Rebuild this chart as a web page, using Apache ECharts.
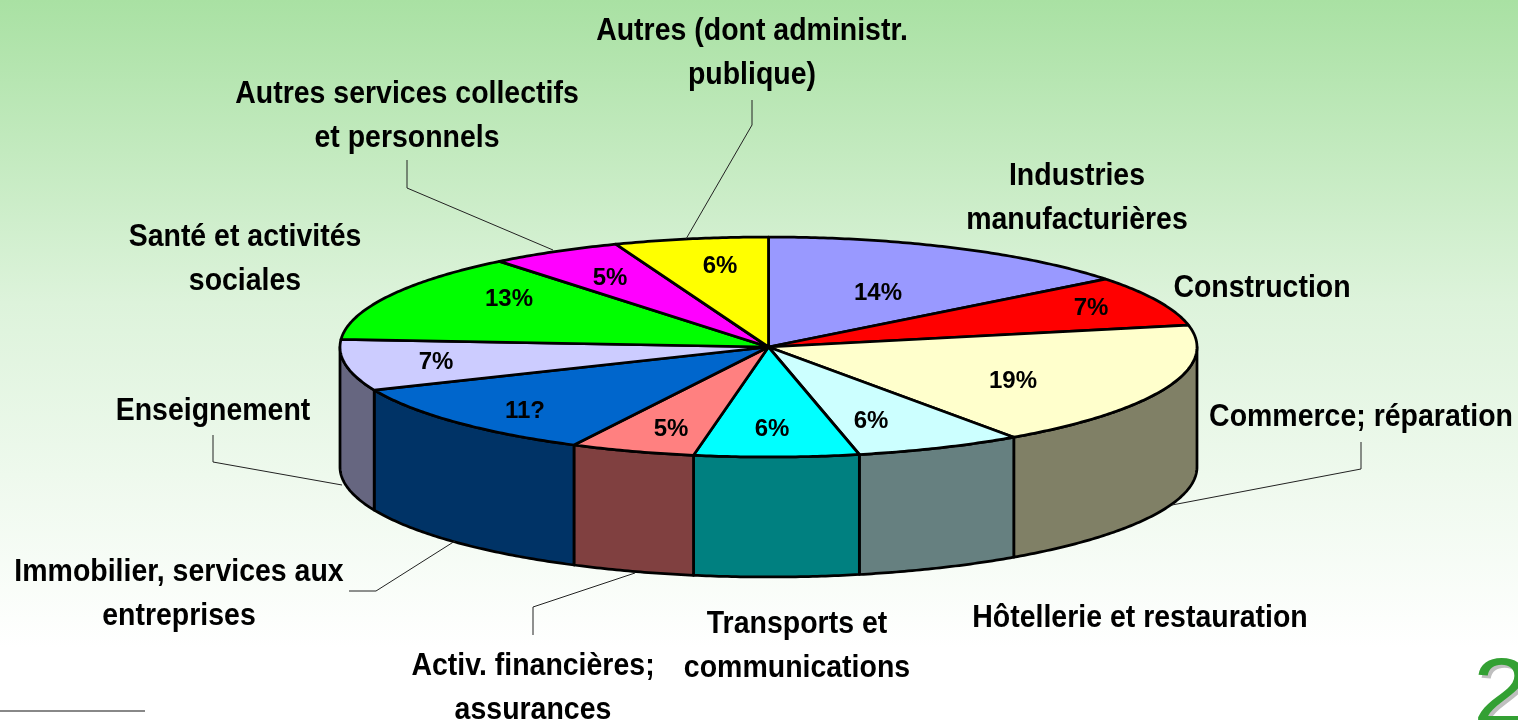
<!DOCTYPE html>
<html><head><meta charset="utf-8">
<style>html,body{margin:0;padding:0;background:#fff}#c{width:1518px;height:720px}</style>
<script src="https://cdn.jsdelivr.net/npm/echarts@6/dist/echarts.min.js"></script>
</head><body><div id="c"></div>
<script>
// Data, clockwise from 12 o'clock
const categories = ['Industries\nmanufacturières','Construction','Commerce; réparation','Hôtellerie et restauration','Transports et\ncommunications','Activ. financières;\nassurances','Immobilier, services aux\nentreprises','Enseignement','Santé et activités\nsociales','Autres services collectifs\net personnels','Autres (dont administr.\npublique)'];
const values = [14.4,7.4,18.5,6.3,6.2,4.7,11.1,7.5,13.1,5.0,5.8];
const valueLabels = ['14%','7%','19%','6%','6%','5%','11?','7%','13%','5%','6%'];
const topColors = ['#9999FF','#FF0000','#FFFFCC','#CCFFFF','#00FFFF','#FF8080','#0066CC','#CCCCFF','#00FF00','#FF00FF','#FFFF00'];
const sideColors = ['#4D4D80','#800000','#808066','#668080','#008080','#804040','#003366','#666680','#008000','#800080','#808000'];

// Layout (not data)
const CX=768.5, CY=347, RX=428.5, RY=110, DEPTH=120;
const valueLabelPos = [[878,293],[1091,308],[1013,381],[871,421],[772,429],[671,429],[525,411],[436,362],[509,299],[610,278],[720,266]];
const catLabelPos = [[1077,198],[1262,288],[1361,417],[1140,618],[797,646],[533,688],[179,594],[213,411],[245,259],[407,116],[752,53]];
const leaders = [null,null,[[1361,442],[1361,469],[1172,505]],null,null,[[533,635],[533,607],[635,573]],[[349,591],[376,591],[455,541]],[[213,435],[213,462],[342,485]],null,[[407,160],[407,188],[553,250]],[[752,100],[752,125],[686,239]]];
const FONT='"Liberation Sans", Arial, sans-serif';

const total = values.reduce((a,b)=>a+b,0);
const cum = []; values.reduce((a,v,i)=>{cum[i]=a;return a+v;},0);
const ang = v => v/total*Math.PI*2;
const rim = (t,dy=0) => [CX+RX*Math.sin(t), CY-RY*Math.cos(t)+dy];

function arcPts(a,b,dy){
  const n=Math.max(2,Math.ceil((b-a)/0.01)), p=[];
  for(let i=0;i<=n;i++) p.push(rim(a+(b-a)*i/n,dy));
  return p;
}
function renderSlice(params,api){
  const i=params.dataIndex, a=ang(cum[i]), b=ang(cum[i]+api.value(0));
  const children=[];
  const fa=Math.max(a,Math.PI/2), fb=Math.min(b,Math.PI*1.5);
  if(fb>fa){
    const pts=arcPts(fa,fb,0).concat(arcPts(fa,fb,DEPTH).reverse());
    children.push({type:'polygon',shape:{points:pts},style:{fill:sideColors[i],stroke:'#000',lineWidth:2.75,lineJoin:'round'}});
  }
  const top=[[CX,CY]].concat(arcPts(a,b,0));
  children.push({type:'polygon',shape:{points:top},style:{fill:topColors[i],stroke:'#000',lineWidth:2.75,lineJoin:'round'}});
  return {type:'group',children};
}
function renderValueLabel(params,api){
  const i=params.dataIndex, p=valueLabelPos[i];
  return {type:'text',x:p[0],y:p[1],style:{text:valueLabels[i],font:'bold 24px '+FONT,fill:'#000',align:'center',verticalAlign:'middle'}};
}
function renderCategory(params,api){
  const i=params.dataIndex, p=catLabelPos[i], children=[];
  if(leaders[i]) children.push({type:'polyline',shape:{points:leaders[i]},style:{fill:null,stroke:'#222',lineWidth:1}});
  children.push({type:'text',x:p[0],y:p[1],scaleX:0.89,style:{text:categories[i],font:'bold 32px '+FONT,lineHeight:44,fill:'#000',align:'center',verticalAlign:'middle'}});
  return {type:'group',children};
}
const chart=echarts.init(document.getElementById('c'),null,{renderer:'canvas'});
chart.setOption({
  animation:false,
  backgroundColor:{type:'linear',x:0,y:0,x2:0,y2:1,colorStops:[{offset:0,color:'#A9E1A3'},{offset:0.42,color:'#DDF3DB'},{offset:0.9,color:'#FFFFFF'},{offset:1,color:'#FFFFFF'}]},
  graphic:[
    {type:'line',shape:{x1:0,y1:711,x2:145,y2:711},style:{stroke:'#888',lineWidth:2}},
    {type:'text',x:1476,y:747,scaleX:1.1,style:{text:'2',font:'93px '+FONT,fill:'#BFBFBF',verticalAlign:'bottom',align:'left'}},
    {type:'text',x:1473,y:744,scaleX:1.1,style:{text:'2',font:'93px '+FONT,fill:'#33A033',verticalAlign:'bottom',align:'left'}}
  ],
  series:[
    {type:'custom',coordinateSystem:'none',renderItem:renderSlice,data:values.map((v,i)=>({name:categories[i],value:[v]})),z:2,silent:true},
    {type:'custom',coordinateSystem:'none',renderItem:renderValueLabel,data:values.map(v=>[v]),z:3,silent:true},
    {type:'custom',coordinateSystem:'none',renderItem:renderCategory,data:values.map(v=>[v]),z:4,silent:true}
  ]
});
</script></body></html>
